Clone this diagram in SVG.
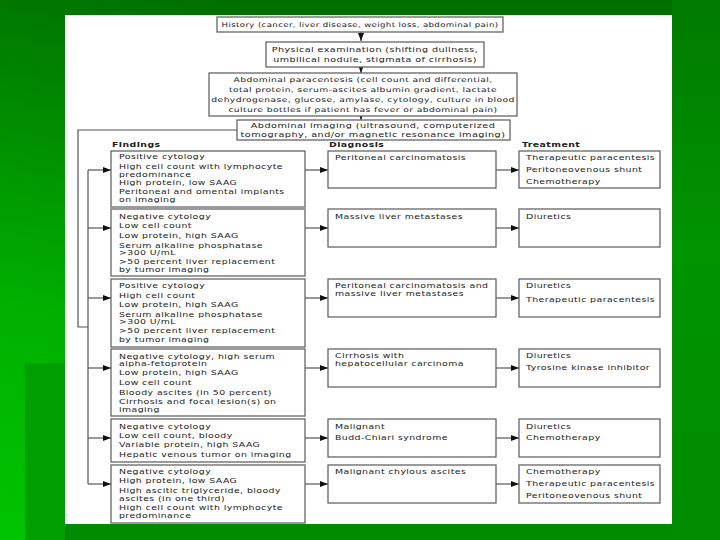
<svg xmlns="http://www.w3.org/2000/svg" width="720" height="540" viewBox="0 0 720 540">
<defs>
<linearGradient id="bg" x1="0.3" y1="0" x2="0" y2="1">
<stop offset="0" stop-color="#006f00"/>
<stop offset="0.6" stop-color="#00b000"/>
<stop offset="1" stop-color="#00c400"/>
</linearGradient>
<linearGradient id="rs" x1="0" y1="0" x2="0" y2="1">
<stop offset="0" stop-color="#007a00"/>
<stop offset="0.45" stop-color="#009400"/>
<stop offset="1" stop-color="#008c00"/>
</linearGradient>
<marker id="ah" markerUnits="userSpaceOnUse" markerWidth="8" markerHeight="6" refX="8" refY="3" orient="auto">
<path d="M0,0 L8,3 L0,6 z" fill="#111"/>
</marker>
<style>
.box{fill:#fff;stroke:#666;stroke-width:1.3}
.t{font-family:"DejaVu Sans","Verdana",sans-serif;font-size:6.6px;letter-spacing:0.3px;fill:#222}
.c{text-anchor:middle}
.h{font-family:"DejaVu Sans","Verdana",sans-serif;font-size:6.6px;font-weight:bold;letter-spacing:0.3px;fill:#222}
.ln{fill:none;stroke:#555;stroke-width:1.2}
.ar{fill:none;stroke:#555;stroke-width:1.2;marker-end:url(#ah)}
</style>
</defs>
<rect x="0" y="0" width="720" height="540" fill="url(#bg)"/>
<rect x="25" y="363" width="40" height="177" fill="#009e00"/>
<rect x="672" y="0" width="48" height="540" fill="url(#rs)"/>
<rect x="65" y="524" width="607" height="16" fill="#008a00"/>
<rect x="65" y="15" width="607" height="509" fill="#fff"/>

<g id="connectors">
<path class="ar" d="M361,32 V41"/>
<path class="ar" d="M361,67 V73"/>
<path class="ar" d="M361,116 V120"/>
<path class="ln" d="M237,130 H78 V327 H88"/>
<path class="ln" d="M88,170 V484"/>
<path class="ar" d="M88,170 H111"/>
<path class="ar" d="M88,228 H111"/>
<path class="ar" d="M88,298 H111"/>
<path class="ar" d="M88,368 H111"/>
<path class="ar" d="M88,438 H111"/>
<path class="ar" d="M88,484 H111"/>
<path class="ar" d="M305,170 H328"/>
<path class="ar" d="M305,228 H328"/>
<path class="ar" d="M305,298 H328"/>
<path class="ar" d="M305,368 H328"/>
<path class="ar" d="M305,438 H328"/>
<path class="ar" d="M305,484 H328"/>
<path class="ar" d="M496,170 H519"/>
<path class="ar" d="M496,228 H519"/>
<path class="ar" d="M496,298 H519"/>
<path class="ar" d="M496,368 H519"/>
<path class="ar" d="M496,438 H519"/>
<path class="ar" d="M496,484 H519"/>
</g>

<g id="history">
<rect class="box" x="217" y="17" width="286" height="15"/>
<text class="t c" transform="translate(360 27.3) scale(1.3 1)">History (cancer, liver disease, weight loss, abdominal pain)</text>
</g>
<g id="physical">
<rect class="box" x="266" y="42" width="218" height="25"/>
<text class="t c" transform="translate(375 51.5) scale(1.45 1)">Physical examination (shifting dullness,</text>
<text class="t c" transform="translate(375 61.5) scale(1.45 1)">umbilical nodule, stigmata of cirrhosis)</text>
</g>
<g id="paracentesis">
<rect class="box" x="209" y="73" width="308" height="43"/>
<text class="t c" transform="translate(363 82.3) scale(1.39 1)">Abdominal paracentesis (cell count and differential,</text>
<text class="t c" transform="translate(363 92.3) scale(1.39 1)">total protein, serum-ascites albumin gradient, lactate</text>
<text class="t c" transform="translate(363 102.3) scale(1.39 1)">dehydrogenase, glucose, amylase, cytology, culture in blood</text>
<text class="t c" transform="translate(363 112.3) scale(1.39 1)">culture bottles if patient has fever or abdominal pain)</text>
</g>
<g id="imaging">
<rect class="box" x="237" y="120" width="273" height="20"/>
<text class="t c" transform="translate(373 128.3) scale(1.47 1)">Abdominal imaging (ultrasound, computerized</text>
<text class="t c" transform="translate(373 137.3) scale(1.47 1)">tomography, and/or magnetic resonance imaging)</text>
</g>

<g id="headers">
<text class="h" transform="translate(112 147.3) scale(1.42 1)">Findings</text>
<text class="h" transform="translate(329 147.3) scale(1.42 1)">Diagnosis</text>
<text class="h" transform="translate(522 147.3) scale(1.42 1)">Treatment</text>
</g>

<g id="finding1">
<rect class="box" x="111" y="151" width="194" height="56"/>
<text class="t" transform="translate(119 159.4) scale(1.42 1)">Positive cytology</text>
<text class="t" transform="translate(119 169.4) scale(1.42 1)">High cell count with lymphocyte</text>
<text class="t" transform="translate(119 176.7) scale(1.42 1)">predominance</text>
<text class="t" transform="translate(119 185) scale(1.42 1)">High protein, low SAAG</text>
<text class="t" transform="translate(119 194) scale(1.42 1)">Peritoneal and omental implants</text>
<text class="t" transform="translate(119 201.8) scale(1.42 1)">on imaging</text>
</g>
<g id="finding2">
<rect class="box" x="111" y="209" width="194" height="67"/>
<text class="t" transform="translate(119 218.7) scale(1.42 1)">Negative cytology</text>
<text class="t" transform="translate(119 227.7) scale(1.42 1)">Low cell count</text>
<text class="t" transform="translate(119 237.7) scale(1.42 1)">Low protein, high SAAG</text>
<text class="t" transform="translate(119 247.5) scale(1.42 1)">Serum alkaline phosphatase</text>
<text class="t" transform="translate(119 255.2) scale(1.42 1)">&gt;300 U/mL</text>
<text class="t" transform="translate(119 264.4) scale(1.42 1)">&gt;50 percent liver replacement</text>
<text class="t" transform="translate(119 272) scale(1.42 1)">by tumor imaging</text>
</g>
<g id="finding3">
<rect class="box" x="111" y="279" width="194" height="68"/>
<text class="t" transform="translate(119 288.4) scale(1.42 1)">Positive cytology</text>
<text class="t" transform="translate(119 297.7) scale(1.42 1)">High cell count</text>
<text class="t" transform="translate(119 307) scale(1.42 1)">Low protein, high SAAG</text>
<text class="t" transform="translate(119 316.7) scale(1.42 1)">Serum alkaline phosphatase</text>
<text class="t" transform="translate(119 324) scale(1.42 1)">&gt;300 U/mL</text>
<text class="t" transform="translate(119 333.4) scale(1.42 1)">&gt;50 percent liver replacement</text>
<text class="t" transform="translate(119 341.5) scale(1.42 1)">by tumor imaging</text>
</g>
<g id="finding4">
<rect class="box" x="111" y="349" width="194" height="67"/>
<text class="t" transform="translate(119 358.7) scale(1.42 1)">Negative cytology, high serum</text>
<text class="t" transform="translate(119 366.2) scale(1.42 1)">alpha-fetoprotein</text>
<text class="t" transform="translate(119 375.4) scale(1.42 1)">Low protein, high SAAG</text>
<text class="t" transform="translate(119 385) scale(1.42 1)">Low cell count</text>
<text class="t" transform="translate(119 394.7) scale(1.42 1)">Bloody ascites (in 50 percent)</text>
<text class="t" transform="translate(119 404) scale(1.42 1)">Cirrhosis and focal lesion(s) on</text>
<text class="t" transform="translate(119 411.8) scale(1.42 1)">imaging</text>
</g>
<g id="finding5">
<rect class="box" x="111" y="419" width="194" height="43"/>
<text class="t" transform="translate(119 428.7) scale(1.42 1)">Negative cytology</text>
<text class="t" transform="translate(119 438.4) scale(1.42 1)">Low cell count, bloody</text>
<text class="t" transform="translate(119 447.4) scale(1.42 1)">Variable protein, high SAAG</text>
<text class="t" transform="translate(119 456.7) scale(1.42 1)">Hepatic venous tumor on imaging</text>
</g>
<g id="finding6">
<rect class="box" x="111" y="465" width="194" height="58"/>
<text class="t" transform="translate(119 473.7) scale(1.42 1)">Negative cytology</text>
<text class="t" transform="translate(119 483.4) scale(1.42 1)">High protein, low SAAG</text>
<text class="t" transform="translate(119 493) scale(1.42 1)">High ascitic triglyceride, bloody</text>
<text class="t" transform="translate(119 500.8) scale(1.42 1)">ascites (in one third)</text>
<text class="t" transform="translate(119 510.4) scale(1.42 1)">High cell count with lymphocyte</text>
<text class="t" transform="translate(119 518.2) scale(1.42 1)">predominance</text>
</g>

<g id="diagnosis1">
<rect class="box" x="328" y="151" width="168" height="37"/>
<text class="t" transform="translate(335 160) scale(1.42 1)">Peritoneal carcinomatosis</text>
</g>
<g id="diagnosis2">
<rect class="box" x="328" y="209" width="168" height="38"/>
<text class="t" transform="translate(335 218.7) scale(1.42 1)">Massive liver metastases</text>
</g>
<g id="diagnosis3">
<rect class="box" x="328" y="279" width="168" height="38"/>
<text class="t" transform="translate(335 288.4) scale(1.42 1)">Peritoneal carcinomatosis and</text>
<text class="t" transform="translate(335 295.8) scale(1.42 1)">massive liver metastases</text>
</g>
<g id="diagnosis4">
<rect class="box" x="328" y="349" width="168" height="38"/>
<text class="t" transform="translate(335 358.4) scale(1.42 1)">Cirrhosis with</text>
<text class="t" transform="translate(335 366) scale(1.42 1)">hepatocellular carcinoma</text>
</g>
<g id="diagnosis5">
<rect class="box" x="328" y="419" width="168" height="38"/>
<text class="t" transform="translate(335 428.7) scale(1.42 1)">Malignant</text>
<text class="t" transform="translate(335 440) scale(1.42 1)">Budd-Chiari syndrome</text>
</g>
<g id="diagnosis6">
<rect class="box" x="328" y="465" width="168" height="38"/>
<text class="t" transform="translate(335 473.7) scale(1.42 1)">Malignant chylous ascites</text>
</g>

<g id="treatment1">
<rect class="box" x="519" y="151" width="141" height="37"/>
<text class="t" transform="translate(526 160) scale(1.42 1)">Therapeutic paracentesis</text>
<text class="t" transform="translate(526 172) scale(1.42 1)">Peritoneovenous shunt</text>
<text class="t" transform="translate(526 183.7) scale(1.42 1)">Chemotherapy</text>
</g>
<g id="treatment2">
<rect class="box" x="519" y="209" width="141" height="38"/>
<text class="t" transform="translate(526 218.7) scale(1.42 1)">Diuretics</text>
</g>
<g id="treatment3">
<rect class="box" x="519" y="279" width="141" height="38"/>
<text class="t" transform="translate(526 288.4) scale(1.42 1)">Diuretics</text>
<text class="t" transform="translate(526 302) scale(1.42 1)">Therapeutic paracentesis</text>
</g>
<g id="treatment4">
<rect class="box" x="519" y="349" width="141" height="38"/>
<text class="t" transform="translate(526 358.4) scale(1.42 1)">Diuretics</text>
<text class="t" transform="translate(526 370) scale(1.42 1)">Tyrosine kinase inhibitor</text>
</g>
<g id="treatment5">
<rect class="box" x="519" y="419" width="141" height="38"/>
<text class="t" transform="translate(526 428.7) scale(1.42 1)">Diuretics</text>
<text class="t" transform="translate(526 440.4) scale(1.42 1)">Chemotherapy</text>
</g>
<g id="treatment6">
<rect class="box" x="519" y="465" width="141" height="38"/>
<text class="t" transform="translate(526 474.4) scale(1.42 1)">Chemotherapy</text>
<text class="t" transform="translate(526 486) scale(1.42 1)">Therapeutic paracentesis</text>
<text class="t" transform="translate(526 497.7) scale(1.42 1)">Peritoneovenous shunt</text>
</g>
</svg>
